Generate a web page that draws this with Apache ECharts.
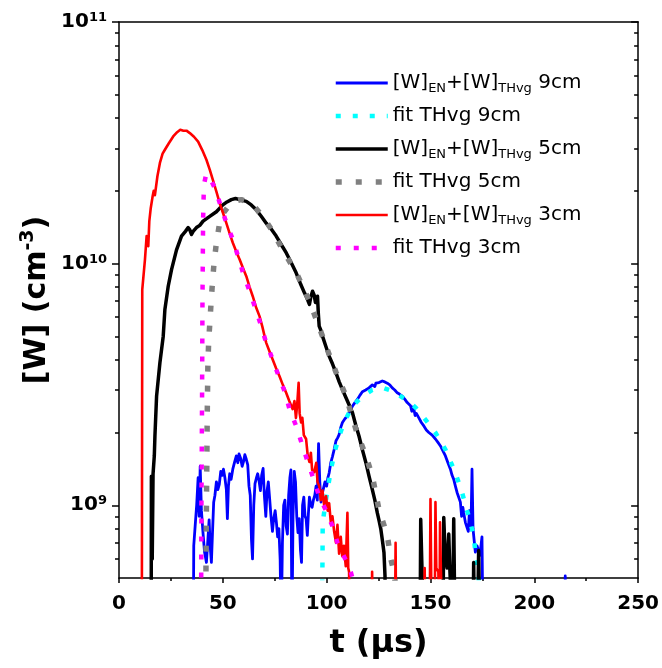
<!DOCTYPE html>
<html><head><meta charset="utf-8">
<script src="https://cdn.jsdelivr.net/npm/echarts@6/dist/echarts.min.js"></script>
<style>html,body{margin:0;padding:0;background:#fff}#c{width:662px;height:668px}</style>
</head><body><div id="c"></div>
<script>
// t (µs), [W] (cm^-3)
const blue9 = [[35.8,3e8],[36.0,6.8e8],[36.8,8.5e8],[37.4,1.0e9],[38.1,1.3e9],[38.6,9.0e8],[39.1,1.45e9],[39.7,9.5e8],[40.4,7.8e8],[41.2,6.4e8],[42.1,5.8e8],[42.8,7.2e8],[43.4,8.7e8],[43.9,6.8e8],[44.5,5.8e8],[45.1,8.0e8],[45.6,1.03e9],[46.2,1.1e9],[46.9,1.25e9],[47.6,1.16e9],[48.3,1.22e9],[49.0,1.38e9],[49.6,1.33e9],[50.3,1.41e9],[51.0,1.3e9],[51.7,1.16e9],[52.2,8.8e8],[52.7,1.2e9],[53.3,1.35e9],[54.0,1.28e9],[54.8,1.41e9],[55.6,1.5e9],[56.5,1.6e9],[57.2,1.5e9],[57.8,1.63e9],[58.6,1.56e9],[59.3,1.45e9],[60.0,1.52e9],[60.6,1.62e9],[61.3,1.55e9],[62.0,1.47e9],[62.6,1.2e9],[63.2,1.1e9],[63.8,7.2e8],[64.3,6.0e8],[64.9,1.0e9],[65.5,1.23e9],[66.2,1.3e9],[66.8,1.35e9],[67.5,1.25e9],[68.1,1.15e9],[68.7,1.33e9],[69.4,1.42e9],[70.0,1.1e9],[70.7,9.0e8],[71.3,1.15e9],[71.9,1.25e9],[72.6,1.05e9],[73.2,9.0e8],[73.9,7.8e8],[74.5,8.8e8],[75.2,9.5e8],[75.8,8.5e8],[76.4,7.4e8],[77.0,8.0e8],[77.6,6.0e8],[78.1,3e8],[78.7,7.0e8],[79.3,1.0e9],[79.9,1.05e9],[80.5,8.2e8],[81.1,7.6e8],[81.7,1.1e9],[82.3,1.3e9],[82.8,1.4e9],[83.3,3e8],[83.8,9.0e8],[84.4,1.38e9],[85.0,1.25e9],[85.6,9.0e8],[86.2,7.7e8],[86.8,8.8e8],[87.4,6.5e8],[87.9,5.8e8],[88.4,1.0e9],[89.0,1.08e9],[89.6,9.0e8],[90.1,8.8e8],[90.7,7.5e8],[91.2,9.2e8],[91.7,1.08e9],[92.4,1.0e9],[93.0,9.8e8],[93.6,1.05e9],[94.3,1.1e9],[94.9,1.2e9],[95.5,1.05e9],[96.1,1.8e9],[96.7,1.25e9],[97.3,1.03e9],[97.9,1.12e9],[98.5,1.1e9],[99.2,1.25e9],[100.0,1.2e9],[100.6,1.3e9],[101.2,1.36e9],[102.0,1.5e9],[102.8,1.59e9],[103.6,1.7e9],[104.5,1.85e9],[105.3,1.9e9],[106.0,1.96e9],[106.8,2.1e9],[107.6,2.2e9],[108.8,2.28e9],[110.0,2.34e9],[111.2,2.46e9],[112.4,2.57e9],[113.6,2.66e9],[114.8,2.74e9],[116.0,2.85e9],[117.2,2.95e9],[118.8,3.0e9],[120.4,3.06e9],[122.0,3.15e9],[123.2,3.1e9],[123.7,3.2e9],[125.2,3.22e9],[126.8,3.27e9],[128.0,3.24e9],[129.2,3.2e9],[130.4,3.15e9],[131.6,3.06e9],[132.8,3.0e9],[134.0,2.92e9],[135.2,2.88e9],[136.4,2.83e9],[137.6,2.75e9],[138.8,2.66e9],[140.4,2.58e9],[141.0,2.45e9],[141.6,2.55e9],[142.0,2.5e9],[142.6,2.35e9],[143.2,2.4e9],[144.4,2.3e9],[145.6,2.2e9],[146.8,2.13e9],[148.0,2.05e9],[149.2,2.0e9],[150.8,1.95e9],[152.4,1.88e9],[153.6,1.82e9],[154.8,1.76e9],[156.0,1.68e9],[157.2,1.6e9],[158.4,1.5e9],[159.6,1.41e9],[160.4,1.33e9],[161.2,1.28e9],[162.0,1.2e9],[162.8,1.13e9],[163.6,1.08e9],[164.4,1.03e9],[165.0,9.0e8],[165.6,9.8e8],[166.0,9.3e8],[166.8,8.5e8],[167.6,8.5e8],[168.2,7.8e8],[168.8,9.5e8],[169.5,8.0e8],[170.0,1.41e9],[170.5,8.0e8],[170.8,7.5e8],[171.6,6.4e8],[172.4,6.8e8],[173.2,6.5e8],[173.8,6.2e8],[174.8,7.4e8],[175.3,3e8],[214.6,3e8],[214.9,5.1e8],[215.2,3e8]];
const fit9 = [[97.8,4e8],[98.0,6e8],[98.1,8.5e8],[100.0,1.1e9],[102.1,1.41e9],[104.0,1.68e9],[106.0,1.93e9],[108.4,2.2e9],[112.4,2.57e9],[117.2,2.82e9],[122.0,3.0e9],[126.8,3.07e9],[131.6,2.97e9],[138.1,2.74e9],[142.8,2.54e9],[147.6,2.26e9],[152.4,2.0e9],[157.2,1.70e9],[162.0,1.36e9],[165.2,1.13e9],[168.4,9.0e8],[170.8,7.5e8],[171.6,6.4e8],[172.9,5.45e8],[173.5,4.5e8]];
const black5 = [[15.5,3e8],[15.6,1.32e9],[16.0,6e8],[16.4,1.35e9],[17.0,1.6e9],[17.3,1.93e9],[18.1,2.83e9],[19.7,3.89e9],[21.3,5.01e9],[22.1,6.46e9],[23.7,8.06e9],[25.3,9.44e9],[27.7,1.14e10],[30.1,1.30e10],[32.0,1.36e10],[33.3,1.41e10],[34.1,1.38e10],[34.9,1.32e10],[35.7,1.36e10],[37.3,1.41e10],[38.9,1.44e10],[40.5,1.50e10],[43.7,1.57e10],[46.9,1.64e10],[50.0,1.75e10],[52.0,1.8e10],[54.1,1.84e10],[56.1,1.86e10],[58.1,1.84e10],[61.3,1.81e10],[63.7,1.75e10],[66.1,1.67e10],[68.5,1.57e10],[70.9,1.47e10],[73.3,1.39e10],[75.7,1.30e10],[78.1,1.20e10],[80.5,1.11e10],[82.9,1.01e10],[85.3,9.16e9],[87.3,8.3e9],[89.3,7.57e9],[90.5,7.2e9],[91.7,6.78e9],[92.4,7.3e9],[93.2,7.69e9],[94.0,7.4e9],[94.6,6.9e9],[95.6,7.33e9],[96.0,6.2e9],[96.4,5.51e9],[97.2,5.3e9],[98.0,5.01e9],[99.6,4.55e9],[101.2,4.14e9],[102.8,3.85e9],[104.5,3.53e9],[106.0,3.25e9],[107.6,3.01e9],[110.0,2.7e9],[112.4,2.42e9],[114.0,2.15e9],[115.6,1.93e9],[117.2,1.7e9],[118.9,1.50e9],[120.4,1.32e9],[122.0,1.16e9],[123.2,1.05e9],[124.4,9.3e8],[125.3,8.6e8],[126.1,7.96e8],[126.9,7.1e8],[127.6,6.38e8],[128.1,5.1e8],[128.4,3e8],[145.0,3e8],[145.3,8.75e8],[145.8,5.9e8],[146.5,5.9e8],[146.8,3e8],[156.0,3e8],[156.4,8.9e8],[157.0,6.5e8],[158.0,5.5e8],[158.8,7.6e8],[159.3,5.5e8],[160.6,3e8],[161.2,8.8e8],[161.8,3e8],[170.5,3e8],[170.8,5.8e8],[171.2,3e8],[172.6,3e8],[173.2,6.5e8],[173.8,3e8]];
const fit5 = [[41.8,3e8],[41.9,6e8],[42.2,1.2e9],[42.5,2.4e9],[42.8,3.8e9],[43.2,4.8e9],[43.7,5.6e9],[44.3,6.8e9],[44.9,8.1e9],[45.7,9.9e9],[46.9,1.22e10],[48.5,1.48e10],[50.5,1.63e10],[53.3,1.75e10],[56.0,1.82e10],[58.9,1.84e10],[62.9,1.79e10],[66.0,1.69e10],[69.2,1.57e10],[74.0,1.36e10],[78.8,1.14e10],[85.3,9.2e9],[91.7,7.0e9],[97.3,5.2e9],[101.0,4.25e9],[104.5,3.55e9],[109.3,2.83e9],[114.1,2.06e9],[118.9,1.6e9],[122.0,1.32e9],[125.2,9.6e8],[129.2,7.5e8],[130.9,6.0e8],[132.4,5.3e8],[133.0,4.8e8]];
const red3 = [[11.0,3e8],[11.2,7.8e9],[11.8,7.9e9],[12.5,1.04e10],[13.3,1.30e10],[13.7,1.22e10],[14.1,1.18e10],[14.6,1.5e10],[15.3,1.7e10],[16.2,1.90e10],[16.7,2.0e10],[17.3,1.92e10],[18.5,2.3e10],[19.7,2.61e10],[21.0,2.85e10],[22.1,2.96e10],[24.0,3.15e10],[26.1,3.36e10],[28.0,3.5e10],[29.5,3.58e10],[30.1,3.62e10],[31.0,3.55e10],[32.5,3.55e10],[34.1,3.47e10],[36.1,3.35e10],[38.1,3.20e10],[40.1,2.95e10],[42.1,2.69e10],[43.7,2.45e10],[45.2,2.22e10],[46.8,2.0e10],[48.5,1.78e10],[50.1,1.62e10],[51.7,1.47e10],[53.2,1.34e10],[54.8,1.22e10],[56.5,1.12e10],[58.1,1.04e10],[59.7,9.6e9],[61.3,8.87e9],[62.9,8.0e9],[64.4,7.33e9],[66.0,6.6e9],[67.7,6.05e9],[69.0,5.5e9],[70.1,5.01e9],[70.9,4.70e9],[72.4,4.35e9],[74.0,4.01e9],[75.6,3.7e9],[77.3,3.42e9],[78.9,3.15e9],[80.5,2.92e9],[82.0,2.7e9],[83.6,2.50e9],[84.5,2.7e9],[85.2,2.3e9],[85.8,2.6e9],[86.5,3.21e9],[87.0,2.4e9],[87.7,2.2e9],[88.3,2.3e9],[89.0,1.95e9],[90.1,1.88e9],[90.9,1.6e9],[91.7,1.51e9],[92.4,1.65e9],[93.0,1.4e9],[94.0,1.37e9],[95.0,1.5e9],[95.6,1.25e9],[96.4,1.2e9],[97.2,1.05e9],[98.0,1.15e9],[98.8,1.0e9],[99.7,1.09e9],[100.5,9.5e8],[101.2,1.02e9],[102.0,8.5e8],[102.8,9.0e8],[103.6,7.8e8],[104.5,7.0e8],[105.2,8.3e8],[106.0,6.3e8],[106.8,7.4e8],[107.5,6.15e8],[108.3,6.8e8],[109.2,5.6e8],[110.0,9.3e8],[110.4,5.5e8],[110.8,5.3e8],[111.2,3e8],[121.6,3e8],[121.9,5.3e8],[122.2,3e8],[132.9,3e8],[133.2,7.0e8],[133.5,3e8],[146.8,3e8],[147.2,5.5e8],[147.6,3e8],[149.6,3e8],[150.0,1.06e9],[150.6,3e8],[152.0,3e8],[152.4,1.03e9],[152.8,5.5e8],[153.8,5.3e8],[154.3,3e8],[154.6,8.5e8],[155.0,5.5e8],[155.8,3e8]];
const fit3 = [[39.5,3e8],[39.7,1.0e9],[40.0,2.74e9],[40.2,7.1e9],[40.5,1.52e10],[40.9,2.12e10],[42.0,2.35e10],[42.8,2.37e10],[44.5,2.2e10],[46.5,2.02e10],[49.3,1.70e10],[52.0,1.45e10],[54.8,1.26e10],[57.5,1.06e10],[60.0,9.0e9],[62.9,7.69e9],[65.6,6.56e9],[68.5,5.51e9],[70.9,4.70e9],[74.0,4.01e9],[76.9,3.42e9],[79.7,2.97e9],[82.1,2.50e9],[85.3,2.13e9],[88.1,1.79e9],[90.8,1.52e9],[93.2,1.32e9],[96.4,1.09e9],[99.7,9.5e8],[102.8,8.2e8],[105.2,7.0e8],[109.3,5.9e8],[111.7,5.27e8],[113.0,4.8e8]];

const seriesNames = ['W 9cm','fit THvg 9cm','W 5cm','fit THvg 5cm','W 3cm','fit THvg 3cm'];
const legendLabels = ['[W]{s|EN}+[W]{s|THvg} 9cm','fit THvg 9cm','[W]{s|EN}+[W]{s|THvg} 5cm','fit THvg 5cm','[W]{s|EN}+[W]{s|THvg} 3cm','fit THvg 3cm'];
const yMajor = [1e9, 1e10, 1e11];
const yMinor = [6e8,7e8,8e8,9e8,2e9,3e9,4e9,5e9,6e9,7e9,8e9,9e9,2e10,3e10,4e10,5e10,6e10,7e10,8e10,9e10];
const xRange = [0, 250];
const xStep = 50;
const yRange = [5e8, 1e11];

const FONT = 'DejaVu Sans';
const chart = echarts.init(document.getElementById('c'), null, {renderer: 'canvas'});
const blackLine = {lineStyle: {color: '#000', width: 1.5}};
const yBase = {type: 'log', logBase: 10, min: yRange[0], max: yRange[1], splitLine: {show: false}, gridIndex: 0};
const supFmt = v => '{b|10}{p|' + Math.round(Math.log10(v)) + '}';

const mk = (name, data, color, width, dash, z) => ({
  name, type: 'line', data, showSymbol: false, symbol: 'none', clip: true,
  animation: false, z: z,
  lineStyle: {color, width, type: dash || 'solid', cap: 'butt', join: 'round'},
  itemStyle: {color},
  emphasis: {disabled: true}
});

chart.setOption({
  animation: false,
  backgroundColor: '#fff',
  grid: {left: 119, right: 22, top: 22, bottom: 90, containLabel: false},
  legend: {
    orient: 'vertical', left: 333, top: 71, padding: 0,
    itemWidth: 52, itemHeight: 14, itemGap: 9,
    selectedMode: false,
    data: seriesNames,
    formatter: n => legendLabels[seriesNames.indexOf(n)],
    lineStyle: {width: 'inherit'},
    itemStyle: {opacity: 0},
    textStyle: {fontFamily: FONT, fontSize: 20, lineHeight: 24, color: '#000',
      rich: {s: {fontFamily: FONT, fontSize: 13, lineHeight: 10, verticalAlign: 'bottom', color: '#000'}}}
  },
  xAxis: [
    {type: 'value', position: 'bottom', min: xRange[0], max: xRange[1], interval: xStep,
     axisLine: blackLine, splitLine: {show: false},
     axisTick: {show: true, inside: false, length: 5, lineStyle: {color: '#000', width: 1.5}},
     minorTick: {show: true, splitNumber: 2, length: 3, lineStyle: {color: '#000', width: 1.5}},
     axisLabel: {margin: 16, fontFamily: FONT, fontWeight: 'bold', fontSize: 20, color: '#000'},
     name: 't (\u03bcs)', nameLocation: 'middle', nameGap: 50, nameMoveOverlap: false,
     nameTextStyle: {fontFamily: FONT, fontWeight: 'bold', fontSize: 32, color: '#000'}},
    {type: 'value', position: 'top', min: xRange[0], max: xRange[1], interval: xStep,
     axisLine: blackLine, splitLine: {show: false}, axisTick: {show: false}, axisLabel: {show: false}}
  ],
  yAxis: [
    Object.assign({}, yBase, {position: 'left',
      axisLine: blackLine,
      axisTick: {show: true, inside: false, length: 7, customValues: yMajor, lineStyle: {color: '#000', width: 1.5}},
      axisLabel: {customValues: yMajor, margin: 12, formatter: supFmt,
        rich: {b: {fontFamily: FONT, fontWeight: 'bold', fontSize: 20, lineHeight: 22, color: '#000'},
               p: {fontFamily: FONT, fontWeight: 'bold', fontSize: 13, lineHeight: 9, verticalAlign: 'top', color: '#000'}}},
      name: '[W] (cm{p|-3})', nameLocation: 'middle', nameGap: 64, nameMoveOverlap: false,
      nameTextStyle: {fontFamily: FONT, fontWeight: 'bold', fontSize: 30, lineHeight: 36, color: '#000',
        rich: {p: {fontFamily: FONT, fontWeight: 'bold', fontSize: 19, lineHeight: 6, verticalAlign: 'top', color: '#000'}}}}),
    Object.assign({}, yBase, {position: 'left', offset: 0,
      axisLine: {show: false},
      axisTick: {show: true, inside: false, length: 4, customValues: yMinor, lineStyle: {color: '#000', width: 1.5}},
      axisLabel: {show: false}}),
    Object.assign({}, yBase, {position: 'right', offset: 0,
      axisLine: blackLine,
      axisTick: {show: true, inside: true, length: 7, customValues: yMajor, lineStyle: {color: '#000', width: 1.5}},
      axisLabel: {show: false}}),
    Object.assign({}, yBase, {position: 'right', offset: 0,
      axisLine: {show: false},
      axisTick: {show: true, inside: true, length: 4, customValues: yMinor, lineStyle: {color: '#000', width: 1.5}},
      axisLabel: {show: false}})
  ],
  series: [
    mk(seriesNames[0], blue9, '#0000ff', 2.8, null, 2),
    mk(seriesNames[1], fit9, '#00ffff', 4.5, [5, 12], 3),
    mk(seriesNames[2], black5, '#000000', 3.5, null, 4),
    mk(seriesNames[3], fit5, '#808080', 5.5, [6, 14], 5),
    mk(seriesNames[4], red3, '#ff0000', 2.6, null, 6),
    mk(seriesNames[5], fit3, '#ff00ff', 4.5, [5, 13], 7)
  ]
});
</script></body></html>
